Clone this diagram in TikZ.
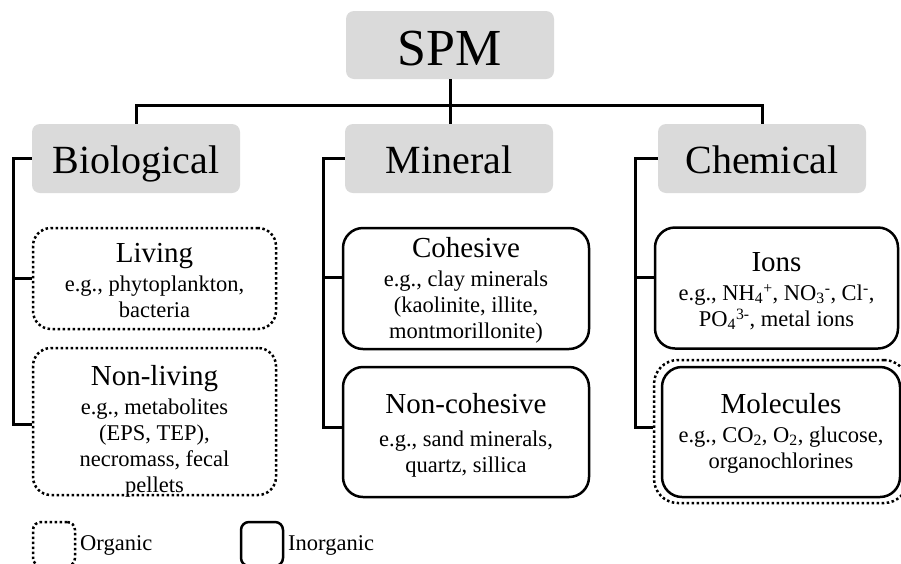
\documentclass[tikz,border=0pt]{standalone}
\usepackage{fontspec}
\setmainfont{Liberation Serif}
\definecolor{hgray}{RGB}{218,218,218}
\newcommand\boxtitle[1]{{\fontsize{29}{34}\selectfont #1}}
\begin{document}
\begin{tikzpicture}[x=1pt,y=-1pt,
  hbox/.style={fill=hgray, rounded corners=8pt, minimum width=208pt, minimum height=69pt,
    inner sep=0pt, font=\fontsize{40}{48}\selectfont, text height=29pt, text depth=0pt},
  conn/.style={line width=3pt},
  sbox/.style={draw, line width=2.5pt, rounded corners=20pt, inner sep=0pt},
  dbox/.style={draw, line width=2.5pt, dash pattern=on 2.5pt off 2.5pt, rounded corners=18pt, inner sep=0pt},
  body/.style={align=center, inner sep=0pt, anchor=north, font=\fontsize{22.5}{26}\selectfont},
  legtext/.style={anchor=base west, inner sep=0pt, font=\fontsize{22.5}{26}\selectfont},
]
\useasboundingbox (0,0) rectangle (901,563);

% header boxes
\node[hbox, minimum height=68pt, font=\fontsize{52}{60}\selectfont, text height=40pt] (spm) at (450,45) {SPM};
\node[hbox] (bio) at (136,158.5) {Biological};
\node[hbox] (min) at (449,158.5) {Mineral};
\node[hbox] (chem) at (762,158.5) {Chemical};

% content boxes
\node[dbox, minimum width=243pt, minimum height=101pt] (living) at (154.5,278.5) {};
\node[dbox, minimum width=243pt, minimum height=147pt] (nonliving) at (154.5,421.5) {};
\node[sbox, minimum width=246pt, minimum height=121pt] (cohesive) at (466,288.5) {};
\node[sbox, minimum width=246pt, minimum height=130pt] (noncoh) at (466,432) {};
\node[sbox, minimum width=243pt, minimum height=121pt] (ions) at (776.5,288) {};
\node[dbox, rounded corners=24pt, minimum width=254pt, minimum height=143pt] (molout) at (781,431.5) {};
\node[sbox, minimum width=238pt, minimum height=130pt] (molin) at (781,432) {};

% texts
\node[body] (livingT) at (154.5,243) {\boxtitle{Living}\\[3pt] e.g., phytoplankton,\\ bacteria};
\node[body] (nonlivingT) at (154.5,365) {\boxtitle{Non-living}\\[3pt] e.g., metabolites\\ (EPS, TEP),\\ necromass, fecal\\ pellets};
\node[body] (cohesiveT) at (466,237) {\boxtitle{Cohesive}\\[3pt] e.g., clay minerals\\ (kaolinite, illite,\\ montmorillonite)};
\node[body] (noncohT) at (466,393) {\boxtitle{Non-cohesive}\\[7pt] e.g., sand minerals,\\ quartz, sillica};
\node[body] (ionsT) at (776.5,252.5) {\boxtitle{Ions}\\[3pt] e.g., NH\textsubscript{4}\textsuperscript{+}, NO\textsubscript{3}\textsuperscript{-}, Cl\textsuperscript{-},\\ PO\textsubscript{4}\textsuperscript{3-}, metal ions};
\node[body] (molT) at (781,393) {\boxtitle{Molecules}\\[3pt] e.g., CO\textsubscript{2}, O\textsubscript{2}, glucose,\\ organochlorines};

% connectors
\coordinate (bar) at (450,105);
\draw[conn] (spm.south) -- (spm.south |- min.north);
\draw[conn] (bio.north) -- (bio.north |- bar) -- (chem.north |- bar) -- (chem.north);

\coordinate (bL1) at (13,278);
\coordinate (bL2) at (13,424);
\draw[conn] (bio.west) -- (bio.west -| bL1) -- (bL2) -- (bL2 -| nonliving.west);
\draw[conn] (bL1) -- (bL1 -| living.west);

\coordinate (mL1) at (323,277);
\coordinate (mL2) at (323,427);
\draw[conn] (min.west) -- (min.west -| mL1) -- (mL2) -- (mL2 -| noncoh.west);
\draw[conn] (mL1) -- (mL1 -| cohesive.west);

\coordinate (cL1) at (635,277);
\coordinate (cL2) at (635,427);
\draw[conn] (chem.west) -- (chem.west -| cL1) -- (cL2) -- (cL2 -| molout.west);
\draw[conn] (cL1) -- (cL1 -| ions.west);

% legend
\node[dbox, rounded corners=8pt, minimum width=42pt, minimum height=44pt] (legO) at (54,544) {};
\node[legtext] (legOT) at (80,550) {Organic};
\node[sbox, rounded corners=8pt, minimum width=42pt, minimum height=44pt] (legI) at (262,544) {};
\node[legtext] (legIT) at (288,550) {Inorganic};
\end{tikzpicture}
\end{document}
